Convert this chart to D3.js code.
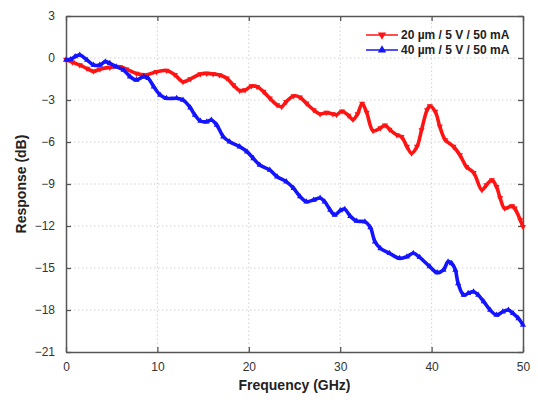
<!DOCTYPE html>
<html>
<head>
<meta charset="utf-8">
<script src="https://cdn.jsdelivr.net/npm/d3@7"></script>
<style>
    body { margin: 0; background: #fff; }
    text { font-family: "Liberation Sans", Arial, sans-serif; }
</style>
</head>
<body>
<div id="chart"></div>
<script>
// 20 um device (red, down triangles)
const redFreq = [0, 0.7, 1.5, 2.3, 3.0, 3.7, 4.8, 5.9, 6.6, 7.7, 8.8, 9.9, 11.0, 11.9, 12.8, 13.6, 14.7, 15.4, 16.1, 16.8,
    17.6, 18.3, 19.0, 19.6, 20.3, 20.9, 21.6, 22.3, 23.1, 23.6, 24.1, 24.9, 25.6, 26.3, 27.1, 27.8, 28.5, 29.2, 29.6, 30.2,
    30.9, 31.4, 31.9, 32.4, 32.9, 33.6, 34.4, 34.9, 35.4, 36.2, 36.7, 37.3, 37.8, 38.4, 38.9, 39.5, 39.8, 40.4, 40.9, 41.5,
    42.4, 43.1, 43.8, 44.6, 45.5, 46.0, 46.6, 47.1, 47.5, 48.0, 48.8, 49.1, 49.7, 50.0];
const redResp = [-0.1, -0.3, -0.5, -0.75, -0.95, -0.8, -0.67, -0.62, -0.8, -1.1, -1.2, -0.98, -0.9, -1.2, -1.7, -1.5, -1.14, -1.1, -1.14, -1.21,
    -1.45, -1.93, -2.33, -2.29, -2.0, -2.05, -2.4, -2.88, -3.36, -3.48, -3.12, -2.71, -2.81, -3.24, -3.71, -4.0, -3.9, -4.0, -4.05, -3.8,
    -4.1, -4.4, -4.0, -3.25, -3.9, -5.2, -5.0, -4.8, -5.1, -5.5, -5.62, -6.33, -6.8, -6.33, -5.14, -3.71, -3.43, -3.83, -4.9, -5.86,
    -6.33, -6.93, -7.76, -8.19, -9.43, -9.07, -8.71, -9.19, -10.0, -10.74, -10.57, -10.74, -11.57, -12.05];

// 40 um device (blue, up triangles)
const blueFreq = [0, 0.5, 1.0, 1.5, 2.3, 3.0, 3.7, 4.3, 4.8, 5.5, 6.3, 7.0, 7.7, 8.5, 9.0, 9.6, 10.3, 11.0, 12.1, 12.8,
    13.6, 14.1, 14.7, 15.4, 15.9, 16.5, 17.2, 17.9, 19.0, 19.8, 20.5, 21.2, 22.3, 23.1, 24.1, 24.9, 25.6, 26.3, 27.1, 27.8,
    28.3, 28.9, 29.4, 30.0, 30.5, 31.1, 31.8, 32.7, 33.3, 33.8, 34.4, 35.4, 36.5, 37.3, 38.0, 38.7, 39.8, 40.6, 41.3, 41.8,
    42.2, 42.6, 42.9, 43.5, 44.0, 44.6, 45.1, 45.7, 46.4, 47.1, 47.8, 48.4, 48.9, 49.5, 50.0];
const blueResp = [-0.15, -0.1, 0.1, 0.21, -0.14, -0.5, -0.5, -0.26, -0.38, -0.62, -0.86, -1.33, -1.57, -1.33, -1.45, -2.05, -2.64, -2.88, -2.88, -3.0,
    -3.55, -4.07, -4.5, -4.55, -4.43, -4.79, -5.62, -5.98, -6.33, -6.69, -7.17, -7.64, -8.0, -8.48, -8.83, -9.31, -9.9, -10.26, -10.14, -10.0,
    -10.26, -10.86, -11.21, -10.9, -10.8, -11.3, -11.65, -11.69, -12.1, -13.12, -13.6, -13.95, -14.31, -14.19, -13.95, -14.24, -14.9, -15.33, -15.14, -14.55,
    -14.67, -15.14, -16.1, -16.93, -16.81, -16.69, -16.93, -17.4, -18.0, -18.36, -18.12, -18.0, -18.24, -18.6, -19.07];

const xTicks = [0, 10, 20, 30, 40, 50];
const yTicks = [3, 0, -3, -6, -9, -12, -15, -18, -21];
const legendLabels = ["20 \u00b5m / 5 V / 50 mA", "40 \u00b5m / 5 V / 50 mA"];

const width = 538, height = 403;
const margin = { top: 16, right: 15, bottom: 51, left: 66 };

const svg = d3.select("#chart").append("svg")
    .attr("width", width)
    .attr("height", height);

const x = d3.scaleLinear().domain([0, 50]).range([margin.left, width - margin.right]);
const y = d3.scaleLinear().domain([-21, 3]).range([height - margin.bottom, margin.top]);

// dotted grid
svg.append("g").selectAll("line.gx")
    .data(xTicks.slice(1, -1))
    .enter().append("line")
    .attr("x1", d => x(d)).attr("x2", d => x(d))
    .attr("y1", y(-21)).attr("y2", y(3))
    .attr("stroke", "#d2d2d2").attr("stroke-dasharray", "1.5,2.5");

svg.append("g").selectAll("line.gy")
    .data(yTicks.slice(1, -1))
    .enter().append("line")
    .attr("x1", x(0)).attr("x2", x(50))
    .attr("y1", d => y(d)).attr("y2", d => y(d))
    .attr("stroke", "#d2d2d2").attr("stroke-dasharray", "1.5,2.5");

// axes, ticks pointing inward, box all round
const axisColor = "#555";
function styleAxis(g, showLabels) {
    g.select(".domain").attr("stroke", axisColor).attr("stroke-width", 1.5);
    g.selectAll(".tick line").attr("stroke", axisColor).attr("stroke-width", 1.3);
    g.selectAll(".tick text")
        .attr("fill", "#333")
        .style("font-size", "12px")
        .style("display", showLabels ? null : "none");
}

svg.append("g")
    .attr("transform", `translate(0,${y(-21)})`)
    .call(d3.axisBottom(x).tickValues(xTicks).tickSizeInner(-5).tickSizeOuter(0).tickPadding(10))
    .call(g => styleAxis(g, true));

svg.append("g")
    .attr("transform", `translate(0,${y(3)})`)
    .call(d3.axisTop(x).tickValues(xTicks).tickSizeInner(-5).tickSizeOuter(0))
    .call(g => styleAxis(g, false));

svg.append("g")
    .attr("transform", `translate(${x(0)},0)`)
    .call(d3.axisLeft(y).tickValues(yTicks).tickSizeInner(-5).tickSizeOuter(0).tickPadding(11))
    .call(g => styleAxis(g, true));

svg.append("g")
    .attr("transform", `translate(${x(50)},0)`)
    .call(d3.axisRight(y).tickValues(yTicks).tickSizeInner(-5).tickSizeOuter(0))
    .call(g => styleAxis(g, false));

// axis titles
svg.append("text")
    .attr("x", (x(0) + x(50)) / 2)
    .attr("y", 390)
    .attr("text-anchor", "middle")
    .style("font-size", "14px")
    .style("font-weight", "bold")
    .attr("fill", "#222")
    .text("Frequency (GHz)");

svg.append("text")
    .attr("transform", `translate(26,${(y(3) + y(-21)) / 2}) rotate(-90)`)
    .attr("text-anchor", "middle")
    .style("font-size", "14px")
    .style("font-weight", "bold")
    .attr("fill", "#222")
    .text("Response (dB)");

// series
const series = [
    { freq: redFreq, resp: redResp, color: "#ff1414", rot: 180, label: legendLabels[0] },
    { freq: blueFreq, resp: blueResp, color: "#1414ff", rot: 0, label: legendLabels[1] }
];

const line = d3.line()
    .x(d => x(d[0]))
    .y(d => y(d[1]))
    .curve(d3.curveCatmullRom);

const tri = d3.symbol().type(d3.symbolTriangle).size(16);

series.forEach(s => {
    const pts = s.freq.map((f, i) => [f, s.resp[i]]);
    svg.append("path")
        .datum(pts)
        .attr("d", line)
        .attr("fill", "none")
        .attr("stroke", s.color)
        .attr("stroke-width", 3.6)
        .attr("stroke-linejoin", "round");

    svg.append("g").selectAll("path")
        .data(pts)
        .enter().append("path")
        .attr("d", tri)
        .attr("transform", d => `translate(${x(d[0])},${y(d[1])}) rotate(${s.rot})`)
        .attr("fill", s.color);
});

// legend
const legend = svg.append("g").attr("transform", "translate(366,35)");
series.forEach((s, i) => {
    const row = legend.append("g").attr("transform", `translate(0,${i * 15})`);
    row.append("line")
        .attr("x1", 0).attr("x2", 32)
        .attr("stroke", s.color).attr("stroke-width", 1.5);
    row.append("path")
        .attr("d", d3.symbol().type(d3.symbolTriangle).size(30))
        .attr("transform", `translate(16,0) rotate(${s.rot})`)
        .attr("fill", s.color);
    row.append("text")
        .attr("x", 35)
        .attr("y", 4)
        .style("font-size", "12px")
        .style("font-weight", "bold")
        .attr("fill", "#222")
        .text(s.label);
});
</script>
</body>
</html>
